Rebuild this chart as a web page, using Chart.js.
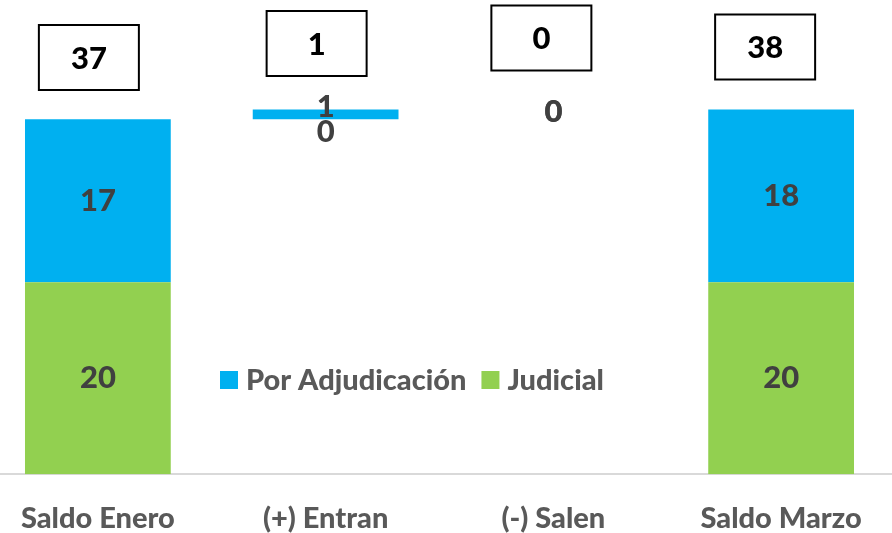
<!DOCTYPE html>
<html>
<head>
<meta charset="utf-8">
<script src="https://cdn.jsdelivr.net/npm/chart.js@4"></script>
<style>
  html, body { margin: 0; padding: 0; background: #fff; overflow: hidden; width: 892px; height: 533px; }
  #wrap { position: absolute; left: -16px; top: 0; width: 911px; height: 555px; }
</style>
</head>
<body>
<div id="wrap"><canvas id="c" width="911" height="555"></canvas></div>
<script>
// ---- data ----
const categories = ['Saldo Enero', '(+) Entran', '(-) Salen', 'Saldo Marzo'];
const baseValues = [0, 37, 38, 0];      // invisible waterfall base
const judicial = [20, 0, 0, 20];
const adjudicacion = [17, 1, 0, 18];
const totals = [37, 1, 0, 38];

const FONT = "Lato, 'Open Sans', sans-serif";
const WEIGHT = '900';
const BLUE = '#00B0F0';
const GREEN = '#92D050';

const overlayPlugin = {
  id: 'overlay',
  afterDatasetsDraw(chart, args, opts) {
    const ctx = chart.ctx;
    const ca = chart.chartArea;
    ctx.save();
    // segment labels
    ctx.font = WEIGHT + ' 31px ' + FONT;
    ctx.fillStyle = '#404040';
    ctx.textAlign = 'center';
    ctx.textBaseline = 'middle';
    [1, 2].forEach(di => {
      const meta = chart.getDatasetMeta(di);
      const vals = chart.data.datasets[di].data;
      meta.data.forEach((bar, i) => {
        const dy = opts.labelDy[di][i];
        const cy = (bar.y + bar.base) / 2 + dy;
        ctx.fillText(String(vals[i]), bar.x, cy);
      });
    });
    // total boxes
    const meta0 = chart.getDatasetMeta(0);
    ctx.font = WEIGHT + ' 31px ' + FONT;
    ctx.lineWidth = 2;
    totals.forEach((t, i) => {
      const cx = meta0.data[i].x + opts.boxDx[i];
      const cy = ca.top + opts.boxY[i];
      const w = 100, h = 65;
      ctx.fillStyle = '#fff';
      ctx.fillRect(cx - w / 2, cy - h / 2, w, h);
      ctx.strokeStyle = '#000';
      ctx.strokeRect(cx - w / 2, cy - h / 2, w, h);
      ctx.fillStyle = '#000';
      ctx.fillText(String(t), cx, cy + 1);
    });
    // legend
    ctx.font = WEIGHT + ' 29px ' + FONT;
    ctx.textAlign = 'left';
    let x = ca.left + opts.legendX;
    const ly = opts.legendY;
    [2, 1].forEach((di) => {
      const ds = chart.data.datasets[di];
      ctx.fillStyle = ds.backgroundColor;
      ctx.fillRect(x, ly - 9, 18, 18);
      x += 26;
      ctx.fillStyle = '#595959';
      ctx.fillText(ds.label, x, ly + 1);
      x += ctx.measureText(ds.label).width + 15;
    });
    ctx.restore();
  }
};

new Chart(document.getElementById('c'), {
  type: 'bar',
  data: {
    labels: categories,
    datasets: [
      { label: 'Base', data: baseValues, backgroundColor: 'rgba(0,0,0,0)', stack: 's' },
      { label: 'Judicial', data: judicial, backgroundColor: GREEN, stack: 's' },
      { label: 'Por Adjudicación', data: adjudicacion, backgroundColor: BLUE, stack: 's' }
    ]
  },
  options: {
    responsive: false,
    animation: false,
    layout: { padding: { top: 4, bottom: 0, left: 0, right: 0 } },
    datasets: { bar: { categoryPercentage: 1, barPercentage: 0.64, borderWidth: 0 } },
    plugins: {
      legend: { display: false },
      tooltip: { enabled: false },
      overlay: {
        labelDy: { 1: [0, 13, 2, 0], 2: [0, -7, 2, 0] },
        boxDx: [-9, -9, -12, -16],
        boxY: [53.5, 39.5, 34, 43],
        legendX: 236,
        legendY: 380
      }
    },
    scales: {
      x: {
        stacked: true,
        grid: { display: false },
        border: { display: true, color: '#d9d9d9', width: 2 },
        ticks: { color: '#595959', font: { family: FONT, size: 29, weight: WEIGHT }, padding: 19 }
      },
      y: {
        stacked: true,
        display: false,
        min: 0,
        max: 49
      }
    }
  },
  plugins: [overlayPlugin]
});
</script>
</body>
</html>
